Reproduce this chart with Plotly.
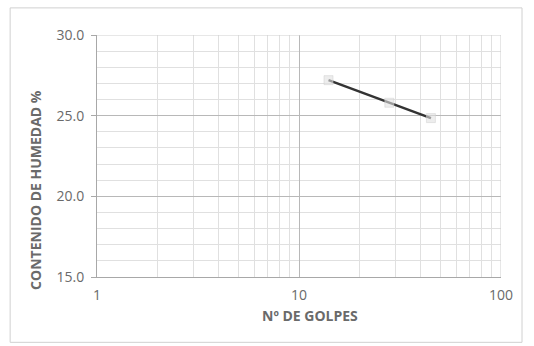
import plotly.graph_objects as go

golpes = [14, 28, 45]
humedad = [27.2, 25.8, 24.85]
y_ticks = [15, 20, 25, 30]
y_tick_labels = ["15.0", "20.0", "25.0", "30.0"]
x_ticks = [1, 10, 100]
x_tick_labels = ["1", "10", "100"]

fig = go.Figure()
fig.add_trace(go.Scatter(
    x=golpes, y=humedad, mode="lines+markers",
    line=dict(color="#333333", width=2.5),
    marker=dict(symbol="square", size=9, color="rgba(225,225,225,0.6)",
                line=dict(color="rgba(210,210,210,0.5)", width=1)),
    showlegend=False,
))

font_family = "Open Sans, Liberation Sans, sans-serif"
grey = "#6a6a6a"
fig.update_layout(
    width=534, height=346,
    margin=dict(l=97, r=33, t=35, b=69),
    paper_bgcolor="white", plot_bgcolor="white",
    font=dict(family=font_family, size=14, color=grey),
    xaxis=dict(
        type="log", range=[0, 2],
        tickvals=x_ticks, ticktext=x_tick_labels,
        showgrid=True, gridcolor="#b8b8b8", gridwidth=1,
        minor=dict(showgrid=True, gridcolor="#e0e0e0", gridwidth=1,
                   tickvals=[2, 3, 4, 5, 6, 7, 8, 9, 20, 30, 40, 50, 60, 70, 80, 90]),
        showline=True, linecolor="#a8a8a8", linewidth=1,
        ticks="", zeroline=False, ticklabelstandoff=5,
        tickfont=dict(size=14, color=grey),
    ),
    yaxis=dict(
        range=[15, 30],
        tickvals=y_ticks, ticktext=y_tick_labels,
        showgrid=True, gridcolor="#b8b8b8", gridwidth=1,
        minor=dict(showgrid=True, gridcolor="#e0e0e0", gridwidth=1, dtick=1),
        showline=True, linecolor="#a8a8a8", linewidth=1,
        ticks="outside", ticklen=5, tickcolor="#a8a8a8",
        zeroline=False, ticklabelstandoff=4,
        tickfont=dict(size=14, color=grey),
    ),
    annotations=[
        dict(text="<b>Nº DE GOLPES</b>", xref="paper", yref="paper",
             x=0.527, y=-0.16, showarrow=False, xanchor="center", yanchor="middle",
             font=dict(size=14, color=grey)),
        dict(text="<b>CONTENIDO DE HUMEDAD %</b>", xref="paper", yref="paper",
             x=-0.151, y=0.36, showarrow=False, textangle=-90,
             xanchor="center", yanchor="middle",
             font=dict(size=14, color=grey)),
    ],
    shapes=[dict(type="rect", xref="paper", yref="paper",
                 x0=-0.215, x1=1.052, y0=-0.27, y1=1.112,
                 line=dict(color="#d0d0d0", width=1))],
)
fig.add_shape(type="line", xref="x", yref="paper", x0=100, x1=100, y0=0, y1=1,
              line=dict(color="#cfcfcf", width=1))
fig.add_shape(type="line", xref="paper", yref="y", x0=0, x1=1, y0=30, y1=30,
              line=dict(color="#cfcfcf", width=1))

fig.write_html("out.html", config={"displayModeBar": False},
               post_script="document.body.style.margin='0px';")
